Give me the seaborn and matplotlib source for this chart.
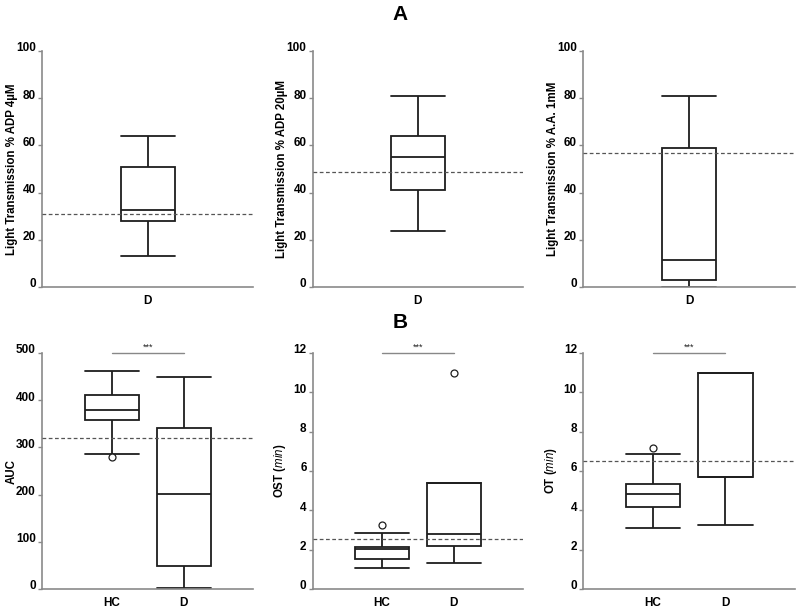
"""
plot.py
-------
Platelet aggregation box plots (panel A: light transmission, panel B: AUC / OST / OT).
Boxes are drawn from five-number summaries read off the reference figure.
"""

import matplotlib
matplotlib.use("Agg")
import matplotlib.pyplot as plt
import matplotlib.transforms as mtransforms
import pandas as pd
import seaborn as sns


# five-number summaries [min, q1, median, q3, max] per group
ADP4_D = [13, 28, 32.5, 51, 64]
ADP20_D = [23.7, 41, 55, 64, 81]
AA1_D = [0, 2.8, 11.4, 59, 81]

AUC_HC = [286, 359, 380, 412, 463]
AUC_D = [1.4, 48, 201.5, 342, 450]
OST_HC = [1.07, 1.51, 2.01, 2.15, 2.83]
OST_D = [1.34, 2.17, 2.79, 5.38, 5.38]
OT_HC = [3.11, 4.18, 4.84, 5.33, 6.89]
OT_D = [3.28, 5.69, 5.69, 11.0, 11.0]

# outliers (group, value)
AUC_OUT = [("HC", 279)]
OST_OUT = [("HC", 3.25), ("D", 11.0)]
OT_OUT = [("HC", 7.18)]

# dashed reference lines
REF_LINES = [31, 48.9, 57, 321, 2.56, 6.5]

YLABELS = [
    "Light Transmission % ADP 4µM",
    "Light Transmission % ADP 20µM",
    "Light Transmission % A.A. 1mM",
    "AUC",
    r"OST ($\mathit{min}$)",
    r"OT ($\mathit{min}$)",
]
YMAX = [100, 100, 100, 500, 12, 12]
YSTEP = [20, 20, 20, 100, 2, 2]

BOX_COLOR = "#1e1e1e"
AXIS_COLOR = "#8a8a8a"

sns.set_style("ticks")
plt.rcParams["font.family"] = ["Liberation Sans", "DejaVu Sans"]
plt.rcParams["text.color"] = "black"
plt.rcParams["axes.labelcolor"] = "black"
plt.rcParams["xtick.color"] = "black"
plt.rcParams["ytick.color"] = "black"
plt.rcParams["mathtext.fontset"] = "custom"
plt.rcParams["mathtext.rm"] = "Liberation Sans:bold"
plt.rcParams["mathtext.it"] = "Liberation Sans:italic"


def make_frame(groups):
    rows = []
    for name, vals in groups:
        for v in vals:
            rows.append({"group": name, "value": v})
    return pd.DataFrame(rows)


def draw_panel(ax, groups, outliers, ref, ylabel, ymax, ystep, sig=False):
    order = [g for g, _ in groups]
    df = make_frame(groups)
    sns.boxplot(
        data=df, x="group", y="value", order=order, ax=ax,
        whis=(0, 100), width=0.75, color="white", linecolor=BOX_COLOR,
        linewidth=1.3, capwidths=0.75,
    )
    if outliers:
        odf = pd.DataFrame(outliers, columns=["group", "value"])
        sns.stripplot(
            data=odf, x="group", y="value", order=order, ax=ax, jitter=False,
            color="white", edgecolor=BOX_COLOR, linewidth=0.9, size=5, zorder=3,
        )

    ax.axhline(ref, color="#555555", lw=0.9, ls=(0, (3, 2)), zorder=4)

    # same category spacing in every panel
    mid = (len(order) - 1) / 2
    ax.set_xlim(mid - 1.465, mid + 1.465)
    ax.set_ylim(0, ymax)
    ax.set_yticks(range(0, ymax + 1, ystep))

    ax.set_xlabel("")
    ax.set_ylabel(ylabel, fontsize=8.3, fontweight="bold")
    ax.yaxis.set_label_coords(-0.116, 0.5)
    ax.tick_params(axis="y", length=3, width=1, color=AXIS_COLOR, pad=1.5,
                   labelsize=8.5, labelcolor="black")
    ax.tick_params(axis="x", length=0, pad=6, labelsize=8.5, labelcolor="black")
    for lab in ax.get_xticklabels() + ax.get_yticklabels():
        lab.set_fontweight("bold")
    shift = mtransforms.ScaledTranslation(0, 3 / 72, ax.figure.dpi_scale_trans)
    for lab in ax.get_yticklabels():
        lab.set_transform(lab.get_transform() + shift)

    sns.despine(ax=ax)
    for side in ["left", "bottom"]:
        ax.spines[side].set_color(AXIS_COLOR)
        ax.spines[side].set_linewidth(1.2)

    if sig:
        ax.plot([0, 1], [ymax, ymax], color="#888888", lw=1, clip_on=False)
        ax.text(0.5, ymax * 1.004, "***", ha="center", va="bottom",
                fontsize=6.5, color="#222222")


fig = plt.figure(figsize=(8, 6.09), dpi=100)

lefts = [0.0525, 0.391, 0.729]
widths = [0.264, 0.2625, 0.265]
bottoms = [0.5287, 0.0328]
height = 0.3875

panels = [
    ([("D", ADP4_D)], [], False),
    ([("D", ADP20_D)], [], False),
    ([("D", AA1_D)], [], False),
    ([("HC", AUC_HC), ("D", AUC_D)], AUC_OUT, True),
    ([("HC", OST_HC), ("D", OST_D)], OST_OUT, True),
    ([("HC", OT_HC), ("D", OT_D)], OT_OUT, True),
]

for i, (groups, outs, sig) in enumerate(panels):
    row, col = divmod(i, 3)
    ax = fig.add_axes([lefts[col], bottoms[row], widths[col], height])
    draw_panel(ax, groups, outs, REF_LINES[i], YLABELS[i], YMAX[i], YSTEP[i], sig)

fig.text(0.5, 1 - 15 / 609, "A", ha="center", va="center", fontsize=15,
         fontweight="bold")
fig.text(0.5, 1 - 322 / 609, "B", ha="center", va="center", fontsize=15,
         fontweight="bold")

fig.savefig("out.png", dpi=100)
plt.close(fig)
